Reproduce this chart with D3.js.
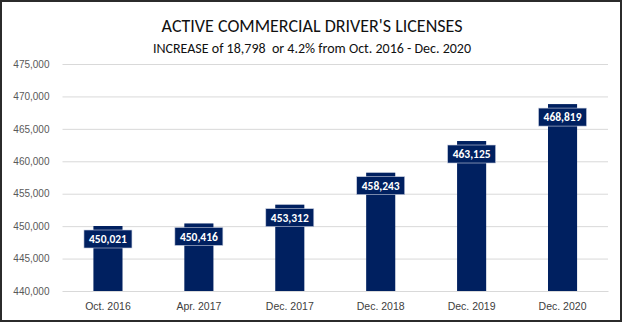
<!DOCTYPE html>
<html>
<head>
<meta charset="utf-8">
<script src="https://cdn.jsdelivr.net/npm/d3@7"></script>
<style>
  body { margin: 0; background: #fff; }
  svg { display: block; font-family: Carlito, Calibri, 'Open Sans', sans-serif; }
</style>
</head>
<body>
<div id="chart"></div>
<script>
const categories = ['Oct. 2016', 'Apr. 2017', 'Dec. 2017', 'Dec. 2018', 'Dec. 2019', 'Dec. 2020'];
const licenses = [450021, 450416, 453312, 458243, 463125, 468819];
const yTicks = [440000, 445000, 450000, 455000, 460000, 465000, 470000, 475000];
const title = "ACTIVE COMMERCIAL DRIVER'S LICENSES";
const subtitle = 'INCREASE of 18,798  or 4.2% from Oct. 2016 - Dec. 2020';

const width = 624, height = 324;
const margin = {top: 64, right: 16, bottom: 33, left: 62.5};
const navy = '#002060';

const svg = d3.select('#chart').append('svg')
  .attr('width', width).attr('height', height);

svg.append('rect')
  .attr('x', 1).attr('y', 1).attr('width', 620).attr('height', 320)
  .attr('fill', '#fff').attr('stroke', '#2b2b2b').attr('stroke-width', 2);

// titles
svg.append('text')
  .attr('x', 312).attr('y', 32)
  .attr('text-anchor', 'middle')
  .style('font-size', '18px').attr('fill', '#111')
  .text(title);
svg.append('text')
  .attr('x', 312).attr('y', 53)
  .attr('text-anchor', 'middle')
  .style('font-size', '14px').style('white-space', 'pre').attr('fill', '#111')
  .text(subtitle);

const x = d3.scaleBand()
  .domain(categories)
  .range([margin.left, width - margin.right])
  .paddingInner(0.68).paddingOuter(0.34);

const y = d3.scaleLinear()
  .domain([440000, 475000])
  .range([height - margin.bottom, margin.top]);

// gridlines
const yAxis = d3.axisLeft(y).tickValues(yTicks)
  .tickSize(-(width - margin.right - margin.left))
  .tickFormat(d3.format(','));
svg.append('g')
  .attr('class', 'axis')
  .attr('transform', 'translate(' + margin.left + ',0)')
  .call(yAxis)
  .call(g => g.select('.domain').remove())
  .call(g => g.selectAll('.tick line').attr('stroke', '#d9d9d9'))
  .call(g => g.selectAll('.tick text')
    .attr('x', -13).attr('fill', '#595959').style('font-size', '10px'));

// x axis labels
const xAxis = d3.axisBottom(x).tickSize(0);
svg.append('g')
  .attr('class', 'axis')
  .attr('transform', 'translate(0,' + (height - margin.bottom) + ')')
  .call(xAxis)
  .call(g => g.select('.domain').attr('stroke', '#d9d9d9'))
  .call(g => g.selectAll('.tick text')
    .attr('y', 12).attr('dy', '0.71em').attr('fill', '#404040').style('font-size', '10.5px'));

// bars
svg.selectAll('rect.bar').data(licenses).enter()
  .append('rect')
  .attr('class', 'bar')
  .attr('x', (d, i) => x(categories[i]))
  .attr('y', d => y(d))
  .attr('width', x.bandwidth())
  .attr('height', d => y(440000) - y(d))
  .attr('fill', navy);

// data labels
const labW = 48, labH = 18;
const labels = svg.selectAll('g.lab').data(licenses).enter()
  .append('g').attr('class', 'lab')
  .attr('transform', (d, i) =>
    'translate(' + (x(categories[i]) + x.bandwidth() / 2) + ',' + (y(d) + 4) + ')');
labels.append('rect')
  .attr('x', -labW / 2).attr('y', 0)
  .attr('width', labW).attr('height', labH)
  .attr('fill', navy).attr('stroke', '#c9cfe0').attr('stroke-width', 0.6);
labels.append('text')
  .attr('y', labH / 2).attr('dy', '0.36em')
  .attr('text-anchor', 'middle')
  .attr('fill', '#fff').style('font-size', '11.5px').style('font-weight', 'bold')
  .text(d => d3.format(',')(d));
</script>
</body>
</html>
